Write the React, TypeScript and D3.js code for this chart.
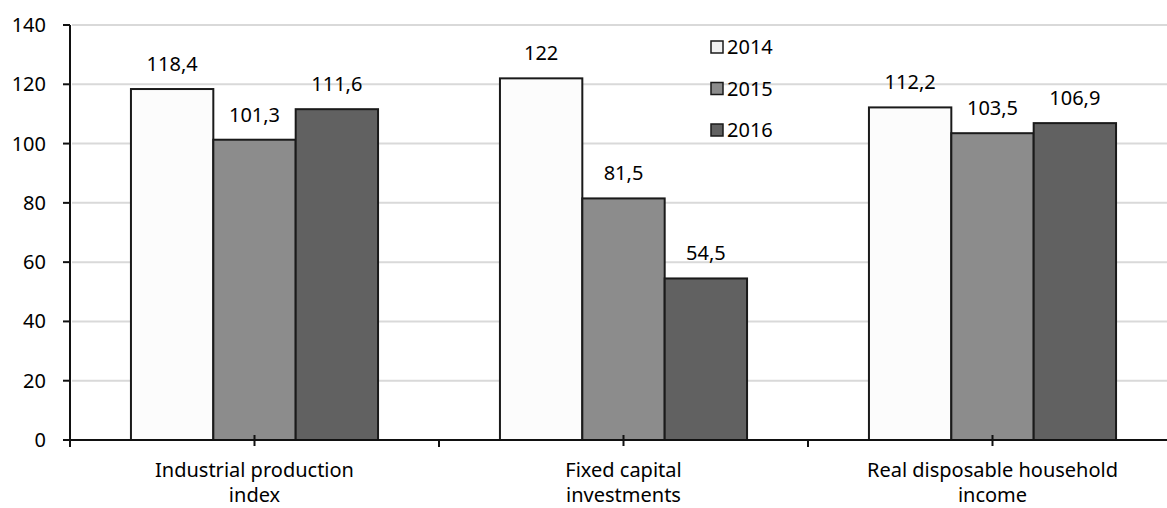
import React from "react";
import * as d3 from "d3";

const categories = [
  ["Industrial production", "index"],
  ["Fixed capital", "investments"],
  ["Real disposable household", "income"],
];
const years = ["2014", "2015", "2016"];
const values2014 = [118.4, 122, 112.2];
const values2015 = [101.3, 81.5, 103.5];
const values2016 = [111.6, 54.5, 106.9];
const yTicks = [0, 20, 40, 60, 80, 100, 120, 140];

const colors = ["#fcfcfc", "#8c8c8c", "#616161"];
const font = "'Noto Sans', sans-serif";
const fs = 20;

const App = () => {
  const width = 1167;
  const height = 508;

  const y = d3.scaleLinear().domain([0, 140]).range([440, 25]);
  const keys = categories.map((c) => c.join(" "));
  const x0 = d3.scaleBand().domain(keys).range([70, 1177]).padding(0);
  const x1 = d3
    .scaleBand()
    .domain(years)
    .range([0, x0.bandwidth()])
    .paddingInner(0)
    .paddingOuter(0.74);

  const series = [values2014, values2015, values2016];
  const fmt = (v: number) => String(v).replace(".", ",");

  return (
    <svg
      width={width}
      height={height}
      style={{ position: "absolute", left: 0, top: 0 }}
      fontFamily={font}
    >
      {/* gridlines */}
      {yTicks.slice(1).map((t) => (
        <line
          key={t}
          x1={72}
          x2={width}
          y1={y(t)}
          y2={y(t)}
          stroke="#d9d9d9"
          strokeWidth={2}
        />
      ))}

      {/* bars */}
      {keys.map((k, i) => (
        <g key={k} transform={`translate(${x0(k)},0)`}>
          {years.map((yr, j) => (
            <g key={yr}>
              <rect
                x={x1(yr)}
                y={y(series[j][i])}
                width={x1.bandwidth()}
                height={y(0) - y(series[j][i])}
                fill={colors[j]}
                stroke="#1a1a1a"
                strokeWidth={2}
              />
              <text
                x={(x1(yr) as number) + x1.bandwidth() / 2}
                y={y(series[j][i]) - 18}
                textAnchor="middle"
                fontSize={fs}
                fill="#000"
              >
                {fmt(series[j][i])}
              </text>
            </g>
          ))}
        </g>
      ))}

      {/* y axis */}
      <line x1={70} x2={70} y1={y(140)} y2={y(0)} stroke="#111" strokeWidth={2} />
      {yTicks.map((t) => (
        <g key={t}>
          <line x1={63} x2={70} y1={y(t)} y2={y(t)} stroke="#111" strokeWidth={2} />
          <text
            x={46}
            y={y(t)}
            dy="0.35em"
            textAnchor="end"
            fontSize={fs}
            fill="#000"
          >
            {t}
          </text>
        </g>
      ))}

      {/* x axis */}
      <line x1={70} x2={width} y1={y(0)} y2={y(0)} stroke="#111" strokeWidth={2} />
      {keys.map((k, i) => {
        const cx = (x0(k) as number) + x0.bandwidth() / 2;
        return (
          <g key={k}>
            <line
              x1={x0(k)}
              x2={x0(k)}
              y1={y(0)}
              y2={y(0) + 7}
              stroke="#111"
              strokeWidth={2}
            />
            <line x1={cx} x2={cx} y1={y(0) - 5} y2={y(0) + 6} stroke="#111" strokeWidth={2} />
            {categories[i].map((line, li) => (
              <text
                key={li}
                x={cx}
                y={477 + li * 25}
                textAnchor="middle"
                fontSize={fs}
                fill="#000"
              >
                {line}
              </text>
            ))}
          </g>
        );
      })}

      {/* legend */}
      {years.map((yr, j) => (
        <g key={yr} transform={`translate(711,${47 + j * 41.5})`}>
          <rect x={0} y={-6} width={12} height={12} fill={j === 0 ? "#f2f2f2" : colors[j]} stroke="#1a1a1a" strokeWidth={1.5} />
          <text x={16} y={0} dy="0.35em" fontSize={fs} fill="#000">
            {yr}
          </text>
        </g>
      ))}
    </svg>
  );
};

export default App;
